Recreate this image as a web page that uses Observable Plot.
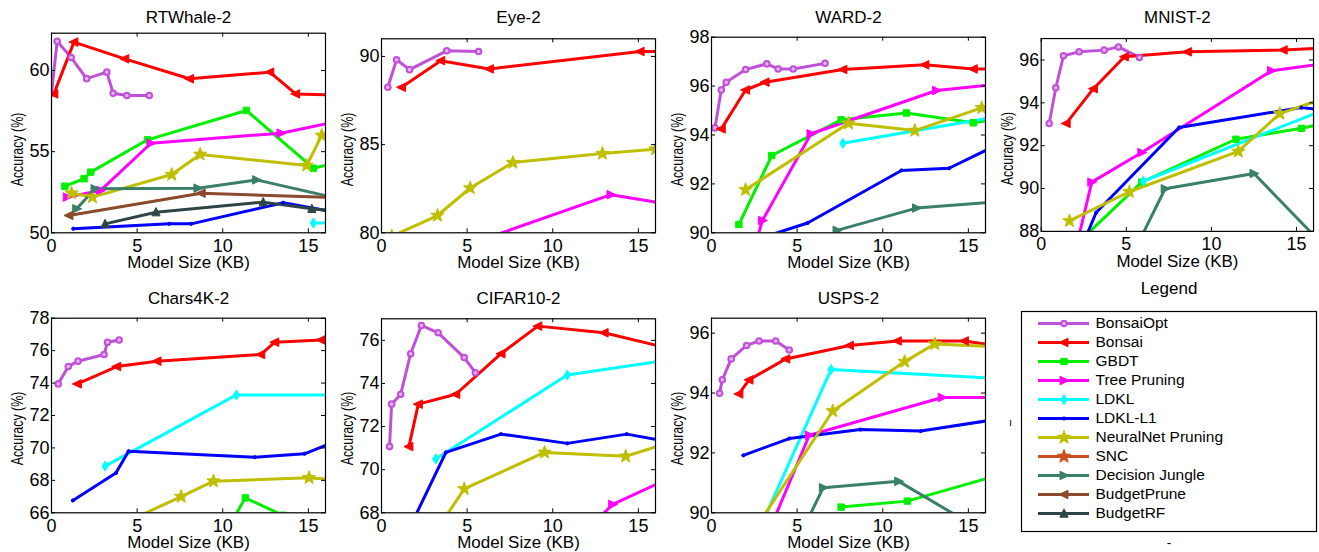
<!DOCTYPE html>
<html><head><meta charset="utf-8">
<script src="https://cdn.jsdelivr.net/npm/d3@7"></script>
<script src="https://cdn.jsdelivr.net/npm/@observablehq/plot@0.6"></script>
<style>
body{margin:0;background:#fff;}
#root{position:relative;width:1319px;height:552px;overflow:hidden;font-family:"Liberation Sans",Arial,Helvetica,sans-serif;}
.panel{position:absolute;}
</style></head><body><div id="root"></div>
<script>
// ---------- data ----------
const methods = ["BonsaiOpt","Bonsai","GBDT","Tree Pruning","LDKL","LDKL-L1","NeuralNet Pruning","SNC","Decision Jungle","BudgetPrune","BudgetRF"];
const xTicks = [0, 5, 10, 15];
const xDomain = [0, 16];

const rtwhale = [
  {method:"BonsaiOpt", pts:[[0,58.6],[0.33,61.8],[1.15,60.8],[2.05,59.5],[3.23,59.9],[3.6,58.6],[4.4,58.46],[5.71,58.46]]},
  {method:"Bonsai", pts:[[0.14,58.56],[1.31,61.75],[4.28,60.72],[8.06,59.49],[12.75,59.9],[14.26,58.56],[16.4,58.5]]},
  {method:"GBDT", pts:[[0.78,52.87],[1.9,53.33],[2.29,53.74],[5.61,55.73],[11.38,57.54],[15.29,53.98],[16.4,54.25]]},
  {method:"Tree Pruning", pts:[[0.92,52.2],[2.87,52.61],[5.81,55.52],[13.4,56.14],[16.4,56.8]]},
  {method:"LDKL", pts:[[15.29,50.6],[16.4,50.6]]},
  {method:"LDKL-L1", pts:[[1.27,50.25],[6.88,50.55],[8.16,50.55],[13.53,51.85],[16.4,51.3]]},
  {method:"NeuralNet Pruning", pts:[[1.17,52.44],[2.39,52.2],[7.02,53.59],[8.68,54.83],[14.9,54.15],[15.78,56.0]]},
  {method:"Decision Jungle", pts:[[1.47,51.48],[2.54,52.71],[8.55,52.75],[11.97,53.26],[16.4,52.2]]},
  {method:"BudgetPrune", pts:[[1.02,51.07],[8.74,52.44],[16.4,52.18]]},
  {method:"BudgetRF", pts:[[3.13,50.55],[6.1,51.27],[12.36,51.89],[15.2,51.48],[16.4,51.36]]}
];
const rtwhaleYTicks = [50, 55, 60];

const eye = [
  {method:"BonsaiOpt", pts:[[0.37,88.25],[0.88,89.81],[1.64,89.25],[3.81,90.32],[5.67,90.28]]},
  {method:"Bonsai", pts:[[1.17,88.25],[3.46,89.76],[6.3,89.29],[15.1,90.28],[16.4,90.28]]},
  {method:"Tree Pruning", pts:[[6.0,79.65],[13.4,82.16],[16.4,81.68]]},
  {method:"NeuralNet Pruning", pts:[[0.6,79.8],[3.27,80.98],[5.18,82.54],[7.67,83.98],[12.9,84.49],[16.0,84.74]]}
];
const eyeYTicks = [80, 85, 90];

const ward = [
  {method:"BonsaiOpt", pts:[[0.2,94.29],[0.57,95.84],[0.86,96.16],[1.99,96.68],[3.23,96.91],[3.89,96.7],[4.77,96.7],[6.63,96.93]]},
  {method:"Bonsai", pts:[[0.57,94.25],[1.99,95.84],[3.13,96.16],[7.67,96.68],[12.46,96.87],[15.29,96.7],[16.4,96.7]]},
  {method:"GBDT", pts:[[1.6,90.34],[3.52,93.16],[7.57,94.62],[11.38,94.9],[15.29,94.5],[16.4,94.62]]},
  {method:"Tree Pruning", pts:[[2.3,88.9],[2.97,90.5],[5.81,94.05],[13.14,95.82],[16.4,96.05]]},
  {method:"LDKL", pts:[[7.67,93.66],[16.4,94.72]]},
  {method:"LDKL-L1", pts:[[2.5,89.7],[5.61,90.4],[11.09,92.55],[13.87,92.64],[16.4,93.5]]},
  {method:"NeuralNet Pruning", pts:[[1.99,91.76],[8.0,94.48],[11.87,94.18],[15.78,95.11]]},
  {method:"Decision Jungle", pts:[[7.33,90.1],[11.97,91.01],[16.4,91.25]]}
];
const wardYTicks = [90, 92, 94, 96, 98];

const mnist = [
  {method:"BonsaiOpt", pts:[[0.47,93.04],[0.86,94.7],[1.31,96.2],[2.23,96.38],[3.7,96.46],[4.54,96.61],[5.77,96.12]]},
  {method:"Bonsai", pts:[[1.47,93.04],[3.07,94.66],[4.89,96.15],[8.59,96.38],[14.22,96.47],[16.4,96.55]]},
  {method:"GBDT", pts:[[2.6,87.8],[5.91,90.3],[11.44,92.3],[15.29,92.81],[16.4,93.0]]},
  {method:"Tree Pruning", pts:[[2.1,87.4],[2.97,90.3],[5.91,91.68],[13.53,95.5],[16.4,95.8]]},
  {method:"LDKL", pts:[[6.0,90.34],[16.4,93.6]]},
  {method:"LDKL-L1", pts:[[2.5,87.5],[3.23,88.88],[8.1,92.85],[15.29,93.78],[16.4,93.67]]},
  {method:"NeuralNet Pruning", pts:[[1.66,88.49],[5.18,89.85],[11.58,91.73],[14.02,93.5],[16.4,94.15]]},
  {method:"Decision Jungle", pts:[[5.7,87.45],[7.28,89.99],[12.5,90.7],[16.4,87.5]]}
];
const mnistYTicks = [88, 90, 92, 94, 96];

const chars4k = [
  {method:"BonsaiOpt", pts:[[0.39,73.95],[0.98,75.02],[1.55,75.35],[3.07,75.76],[3.27,76.52],[3.95,76.66]]},
  {method:"Bonsai", pts:[[1.51,73.95],[3.81,75.02],[6.16,75.35],[12.22,75.76],[13.04,76.52],[15.74,76.66],[16.4,76.66]]},
  {method:"GBDT", pts:[[10.6,65.6],[11.32,66.92],[13.5,65.85]]},
  {method:"LDKL", pts:[[3.13,68.88],[10.8,73.27],[16.4,73.27]]},
  {method:"LDKL-L1", pts:[[1.25,66.76],[3.76,68.45],[4.5,69.8],[11.87,69.43],[14.77,69.64],[16.4,70.33]]},
  {method:"NeuralNet Pruning", pts:[[4.5,65.5],[7.57,67.0],[9.46,67.95],[15.04,68.16],[16.4,68.05]]}
];
const chars4kYTicks = [66, 68, 70, 72, 74, 76, 78];

const cifar = [
  {method:"BonsaiOpt", pts:[[0.47,71.07],[0.59,73.04],[1.12,73.5],[1.7,75.38],[2.33,76.69],[3.31,76.35],[4.83,75.2],[5.48,74.5]]},
  {method:"Bonsai", pts:[[1.6,71.07],[2.15,73.04],[4.34,73.5],[6.98,75.38],[9.13,76.66],[13.0,76.35],[16.4,75.7]]},
  {method:"Tree Pruning", pts:[[12.5,67.6],[13.5,68.39],[16.4,69.45]]},
  {method:"LDKL", pts:[[3.17,70.5],[10.85,74.39],[16.4,75.05]]},
  {method:"LDKL-L1", pts:[[1.7,67.4],[3.76,70.8],[6.98,71.65],[10.85,71.22],[14.32,71.65],[16.4,71.35]]},
  {method:"NeuralNet Pruning", pts:[[3.4,67.4],[4.83,69.11],[9.52,70.8],[14.26,70.62],[16.4,71.15]]}
];
const cifarYTicks = [68, 70, 72, 74, 76];

const usps = [
  {method:"BonsaiOpt", pts:[[0.47,93.99],[0.63,94.44],[1.15,95.14],[2.05,95.59],[2.78,95.74],[3.75,95.74],[4.54,95.44]]},
  {method:"Bonsai", pts:[[1.6,93.97],[2.19,94.44],[4.34,95.14],[8.06,95.59],[10.85,95.74],[14.77,95.74],[16.4,95.6]]},
  {method:"GBDT", pts:[[7.57,90.19],[11.44,90.39],[16.4,91.2]]},
  {method:"Tree Pruning", pts:[[3.4,89.44],[5.71,92.59],[13.47,93.85],[16.4,93.85]]},
  {method:"LDKL", pts:[[2.8,89.45],[6.98,94.79],[16.4,94.5]]},
  {method:"LDKL-L1", pts:[[1.86,91.92],[4.54,92.48],[8.7,92.78],[12.22,92.73],[16.4,93.1]]},
  {method:"NeuralNet Pruning", pts:[[2.5,89.42],[7.08,93.4],[11.28,95.05],[13.04,95.64],[16.4,95.55]]},
  {method:"Decision Jungle", pts:[[5.5,89.64],[6.53,90.84],[10.93,91.05],[16.4,89.2]]}
];
const uspsYTicks = [90, 92, 94, 96];

// ---------- styles ----------
const methodColors = ["#c050d8","#ff0000","#00f000","#ff00ff","#00ffff","#0000ff","#bfbf00","#cc5020","#3a8068","#8b4a2b","#2f4545"];
const methodSymbols = ["circle","triLeft","square","triRight","diamond","dot","star","star","triRight","triLeft","triUp"];
const methodR = [2.8, 5, 3.2, 5, 4.2, 1.6, 7, 7, 5, 5, 4.6];

function sym(fn){ return {draw(ctx, size){ const r = Math.sqrt(size / Math.PI); fn(ctx, r); }}; }
const symbols = {
  circle: sym((c,r)=>{c.moveTo(r,0); c.arc(0,0,r,0,2*Math.PI);}),
  dot: sym((c,r)=>{c.moveTo(r,0); c.arc(0,0,r,0,2*Math.PI);}),
  triLeft: sym((c,r)=>{c.moveTo(-r,0); c.lineTo(r*0.8,-r*0.85); c.lineTo(r*0.8,r*0.85); c.closePath();}),
  triRight: sym((c,r)=>{c.moveTo(r,0); c.lineTo(-r*0.8,-r*0.85); c.lineTo(-r*0.8,r*0.85); c.closePath();}),
  triUp: sym((c,r)=>{c.moveTo(0,-r); c.lineTo(r*0.9,r*0.8); c.lineTo(-r*0.9,r*0.8); c.closePath();}),
  square: sym((c,r)=>{c.moveTo(-r,-r); c.lineTo(r,-r); c.lineTo(r,r); c.lineTo(-r,r); c.closePath();}),
  diamond: sym((c,r)=>{c.moveTo(0,-r*1.2); c.lineTo(r*0.75,0); c.lineTo(0,r*1.2); c.lineTo(-r*0.75,0); c.closePath();}),
  star: sym((c,r)=>{for(let i=0;i<10;i++){const a=-Math.PI/2+i*Math.PI/5, rr=i%2?r*0.42:r; const x=rr*Math.cos(a), y=rr*Math.sin(a); if(i) c.lineTo(x,y); else c.moveTo(x,y);} c.closePath();})
};
function styleOf(m){
  const i = methods.indexOf(m);
  return {color: methodColors[i], symbol: symbols[methodSymbols[i]], r: methodR[i], kind: methodSymbols[i]};
}
const FONT = "'Liberation Sans', Arial, Helvetica, sans-serif";

const panels = [
  {title:"RTWhale-2", series: rtwhale, ydomain:[50,62.3], yticks: rtwhaleYTicks, L:51, T:32.7, B:232.3, rowTop:0, titleY:17.5, labelY:149},
  {title:"Eye-2", series: eye, ydomain:[80,91], yticks: eyeYTicks, L:381, T:38.3, B:232.3, rowTop:0, titleY:17.5, labelY:149},
  {title:"WARD-2", series: ward, ydomain:[90,98], yticks: wardYTicks, L:711, T:36.7, B:232.3, rowTop:0, titleY:17.5, labelY:149},
  {title:"MNIST-2", series: mnist, ydomain:[88,97], yticks: mnistYTicks, L:1041, T:38.3, B:232.3, rowTop:0, titleY:17.5, labelY:149},
  {title:"Chars4K-2", series: chars4k, ydomain:[66,78], yticks: chars4kYTicks, L:51, T:317.7, B:512.3, rowTop:280, titleY:298, labelY:428},
  {title:"CIFAR10-2", series: cifar, ydomain:[68,77], yticks: cifarYTicks, L:381, T:318.3, B:512.3, rowTop:280, titleY:298, labelY:428},
  {title:"USPS-2", series: usps, ydomain:[90,96.5], yticks: uspsYTicks, L:711, T:317.7, B:512.3, rowTop:280, titleY:298, labelY:428}
];

const root = document.getElementById("root");
const FW = 274;

function place(svg, left, top){
  const div = document.createElement("div");
  div.className = "panel";
  div.style.left = left + "px";
  div.style.top = top + "px";
  div.appendChild(svg);
  root.appendChild(div);
}

for (const p of panels) {
  const mL = 51, mR = 6, mT = p.T - p.rowTop, mB = 40;
  const fh = p.B - p.T;
  const width = mL + FW + mR, height = mT + fh + mB;
  const [y0, y1] = p.ydomain;
  const ky = (y1 - y0) / fh * 4;  // 4px inward tick
  const kx = (xDomain[1] - xDomain[0]) / FW * 4;
  const marks = [];
  for (const s of p.series) {
    const st = styleOf(s.method);
    marks.push(Plot.line(s.pts, {x: d => d[0], y: d => d[1], stroke: st.color, strokeWidth: 3, strokeLinejoin: "round", clip: true}));
  }
  for (const s of p.series) {
    const st = styleOf(s.method);
    marks.push(Plot.dot(s.pts, {x: d => d[0], y: d => d[1], symbol: st.symbol, r: st.r,
      fill: st.kind === "circle" ? "#e2b4ee" : st.color, stroke: st.color, strokeWidth: st.kind === "circle" ? 2 : 1, clip: true}));
  }
  marks.push(
    Plot.ruleX(xTicks, {x: d => d, y1: y0, y2: y0 + ky, stroke: "#000", strokeWidth: 1}),
    Plot.ruleX(xTicks, {x: d => d, y1: y1, y2: y1 - ky, stroke: "#000", strokeWidth: 1}),
    Plot.ruleY(p.yticks, {y: d => d, x1: xDomain[0], x2: xDomain[0] + kx, stroke: "#000", strokeWidth: 1}),
    Plot.ruleY(p.yticks, {y: d => d, x1: xDomain[1], x2: xDomain[1] - kx, stroke: "#000", strokeWidth: 1}),
    Plot.frame({stroke: "#000", strokeWidth: 1.2}),
    Plot.axisX(xTicks, {anchor: "bottom", tickSize: 0, tickPadding: 6, fontSize: 18, label: null}),
    Plot.axisY(p.yticks, {anchor: "left", tickSize: 0, tickPadding: 2, fontSize: 18, label: null}),
    Plot.text([p.title], {text: d => d, frameAnchor: "top", textAnchor: "middle", dy: p.titleY - p.T, fontSize: 17, lineAnchor: "middle"}),
    Plot.text(["Model Size (KB)"], {text: d => d, frameAnchor: "bottom", textAnchor: "middle", dy: 30, fontSize: 17, lineAnchor: "middle"}),
    Plot.text(["Accuracy (%)"], {text: d => d, frameAnchor: "top-left", textAnchor: "middle", dx: -34, dy: p.labelY - p.T, rotate: -90, fontSize: 17, lineAnchor: "middle"})
  );
  const svg = Plot.plot({
    width, height, marginLeft: mL, marginRight: mR, marginTop: mT, marginBottom: mB,
    x: {domain: xDomain}, y: {domain: p.ydomain},
    style: {fontFamily: FONT, color: "#000", background: "transparent", overflow: "visible"},
    marks
  });
  // the reference's y label is narrower along its length than its glyph height suggests
  svg.querySelectorAll("text").forEach(t => {
    if (t.textContent === "Accuracy (%)") {
      const tr = t.getAttribute("transform") || "";
      t.setAttribute("transform", tr + " scale(0.73,1)");
    }
  });
  place(svg, p.L - mL, p.rowTop);
}

// ---------- legend ----------
{
  const mL = 21, mR = 3, mT = 31, mB = 21;
  const width = 319, height = 272;
  const lx = (v) => () => v;
  const marks = [Plot.frame({stroke: "#000", strokeWidth: 1.2})];
  for (const m of methods) {
    const st = styleOf(m);
    marks.push(Plot.ruleY([m], {y: d => d, x1: lx(17), x2: lx(68), stroke: st.color, strokeWidth: 3}));
    marks.push(Plot.dot([m], {y: d => d, x: lx(42.5), symbol: st.symbol, r: st.r,
      fill: st.kind === "circle" ? "#e2b4ee" : st.color, stroke: st.color, strokeWidth: st.kind === "circle" ? 2 : 1}));
  }
  marks.push(
    Plot.text(methods, {y: d => d, x: lx(74), text: d => d, textAnchor: "start", fontSize: 15.5}),
    Plot.text(["Legend"], {text: d => d, frameAnchor: "top", textAnchor: "middle", dy: -22.5, fontSize: 17, lineAnchor: "middle"}),
    Plot.text(["ı"], {text: d => d, frameAnchor: "top-left", textAnchor: "middle", dx: -11, dy: 111, fontSize: 11, lineAnchor: "middle"}),
    Plot.text(["-"], {text: d => d, frameAnchor: "bottom", textAnchor: "middle", dy: 11, fontSize: 13, lineAnchor: "middle"})
  );
  const svg = Plot.plot({
    width, height, marginLeft: mL, marginRight: mR, marginTop: mT, marginBottom: mB,
    x: {domain: [0, 295], range: [mL, width - mR]},
    y: {type: "point", domain: methods, range: [42.7, 232.7], padding: 0},
    axis: null,
    style: {fontFamily: FONT, color: "#000", background: "transparent", overflow: "visible"},
    marks
  });
  place(svg, 1000, 280);
}
</script>
</body></html>
